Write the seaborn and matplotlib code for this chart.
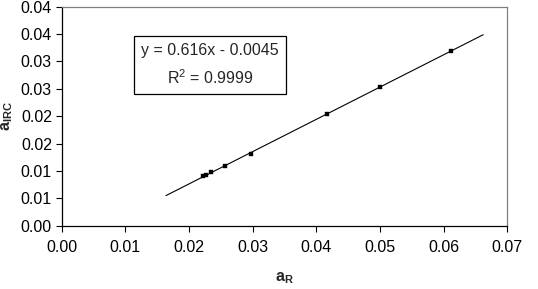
import numpy as np
import pandas as pd
import seaborn as sns
import matplotlib.pyplot as plt

# values
a_r = [0.02227, 0.02262, 0.02341, 0.02565, 0.02978, 0.04172, 0.04995, 0.06111]
a_irc = [0.00908, 0.00926, 0.00975, 0.01090, 0.01315, 0.02035, 0.02539, 0.03191]
x_ticks = [0.00, 0.01, 0.02, 0.03, 0.04, 0.05, 0.06, 0.07]
x_labels = ["0.00", "0.01", "0.02", "0.03", "0.04", "0.05", "0.06", "0.07"]
y_ticks = [0.000, 0.005, 0.010, 0.015, 0.020, 0.025, 0.030, 0.035, 0.040]
y_labels = ["0.00", "0.01", "0.01", "0.02", "0.02", "0.03", "0.03", "0.04", "0.04"]
eq_text = "y = 0.616x - 0.0045\nR$^2$ = 0.9999"

sns.set_style("white")
plt.rcParams['font.family'] = ['Liberation Sans', 'DejaVu Sans']
plt.rcParams['mathtext.fontset'] = 'custom'
plt.rcParams['mathtext.rm'] = 'Liberation Sans'
plt.rcParams['mathtext.bf'] = 'Liberation Sans:bold'

df = pd.DataFrame({"a_R": a_r, "a_IRC": a_irc})

# linear trendline, extended a bit past the data like excel's forecast
slope, icpt = np.polyfit(df["a_R"], df["a_IRC"], 1)
xs = np.array([df["a_R"].min() - 0.0059, df["a_R"].max() + 0.0051])
trend = pd.DataFrame({"x": xs, "y": slope * xs + icpt})

fig = plt.figure(figsize=(5.38, 2.89), dpi=100)
ax = fig.add_axes([0.1147, 0.219, 0.8283, 0.7578])

sns.lineplot(data=trend, x="x", y="y", color="black", lw=0.8, ax=ax)
sns.scatterplot(data=df, x="a_R", y="a_IRC", marker="s", s=11, color="black",
                edgecolor="black", ax=ax, zorder=3)

ax.set_xlim(0, 0.07)
ax.set_ylim(0, 0.04)
ax.set_xticks(x_ticks)
ax.set_xticklabels(x_labels)
ax.set_yticks(y_ticks)
ax.set_yticklabels(y_labels)
ax.tick_params(axis="both", direction="out", length=4, width=0.8, labelsize=11.5,
               color="black", labelcolor="black", bottom=True, left=True, pad=3)
ax.tick_params(axis="x", pad=6)

for s in ["left", "bottom"]:
    ax.spines[s].set_color("black")
    ax.spines[s].set_linewidth(0.9)
for s in ["top", "right"]:
    ax.spines[s].set_color("#808080")
    ax.spines[s].set_linewidth(0.9)

ax.set_xlabel(r"$\mathbf{a_R}$", fontsize=11.5, labelpad=11)
ax.set_ylabel(r"$\mathbf{a_{IRC}}$", fontsize=11.5, labelpad=4)

ax.text(0.333, 0.734, eq_text, transform=ax.transAxes, ha="center", va="center",
        fontsize=11.5, linespacing=1.6, multialignment="center",
        bbox=dict(boxstyle="square,pad=0.45", fc="white", ec="black", lw=0.9))

fig.savefig("out.png", dpi=100)
